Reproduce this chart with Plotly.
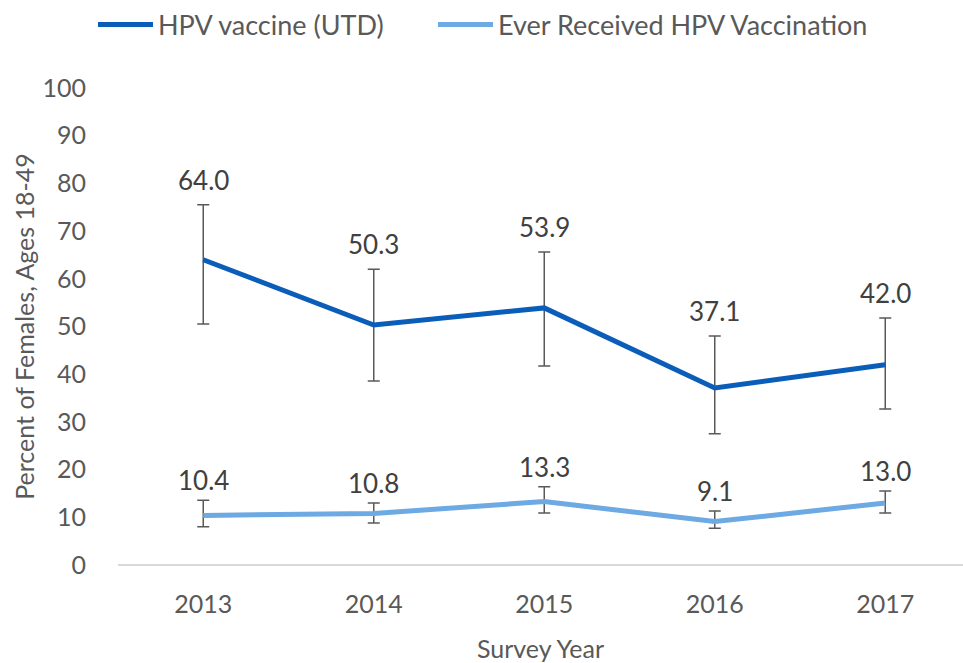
import plotly.graph_objects as go

years = ["2013", "2014", "2015", "2016", "2017"]
utd = [64.0, 50.3, 53.9, 37.1, 42.0]
utd_upper = [75.5, 62.0, 65.6, 48.0, 51.8]
utd_lower = [50.5, 38.6, 41.7, 27.5, 32.7]
ever = [10.4, 10.8, 13.3, 9.1, 13.0]
ever_upper = [13.6, 13.0, 16.4, 11.3, 15.5]
ever_lower = [8.0, 8.8, 10.9, 7.7, 10.9]

FONT = "Lato, 'Open Sans', sans-serif"
TXT = "#595959"

def err(vals, up, lo):
    return dict(type="data", symmetric=False,
                array=[u - v for u, v in zip(up, vals)],
                arrayminus=[v - l for v, l in zip(vals, lo)],
                color="#595959", thickness=1.5, width=6)

fig = go.Figure()
fig.add_trace(go.Scatter(x=years, y=utd, mode="lines", name="HPV vaccine (UTD)",
                         line=dict(color="#0A5EB9", width=5), legend="legend",
                         error_y=err(utd, utd_upper, utd_lower)))
fig.add_trace(go.Scatter(x=years, y=ever, mode="lines", name="Ever Received HPV Vaccination",
                         line=dict(color="#6DA9E2", width=5), legend="legend2",
                         error_y=err(ever, ever_upper, ever_lower)))

for vals, ups, shift in [(utd, utd_upper, 25), (ever, ever_upper, 20)]:
    for i, (v, u) in enumerate(zip(vals, ups)):
        fig.add_annotation(x=i, y=u, xref="x", yref="y", text=f"{v:.1f}", showarrow=False,
                           yshift=shift, font=dict(family=FONT, size=26, color="#404040"))

leg = dict(orientation="h", xanchor="left", y=1.132, yanchor="middle",
           font=dict(family=FONT, size=27, color=TXT), itemwidth=55,
           bgcolor="rgba(0,0,0,0)")

fig.update_layout(
    width=963, height=663,
    margin=dict(l=118, r=0, t=88, b=98, autoexpand=False),
    plot_bgcolor="white", paper_bgcolor="white",
    font=dict(family=FONT, size=24, color=TXT),
    showlegend=True,
    legend=dict(leg, x=-0.0296),
    legend2=dict(leg, x=0.3728),
    xaxis=dict(type="category", range=[-0.5, 4.456], showgrid=False, automargin=False,
               showline=False, ticks="", tickfont=dict(size=25, color=TXT), ticklabelstandoff=22,
               title=dict(text="Survey Year", font=dict(size=25, color=TXT), standoff=23)),
    yaxis=dict(range=[0, 100], dtick=10, showgrid=False, zeroline=True, automargin=False,
               zerolinecolor="#D9D9D9", zerolinewidth=1.5, showline=False, ticks="",
               tickfont=dict(size=25, color=TXT), ticklabelstandoff=31,
               title=dict(text="Percent of Females, Ages 18-49", font=dict(size=25, color=TXT), standoff=0)),
)

fig.write_html("out.html", config={"displayModeBar": False},
               post_script="document.body.style.margin='0';document.body.style.overflow='hidden';")
